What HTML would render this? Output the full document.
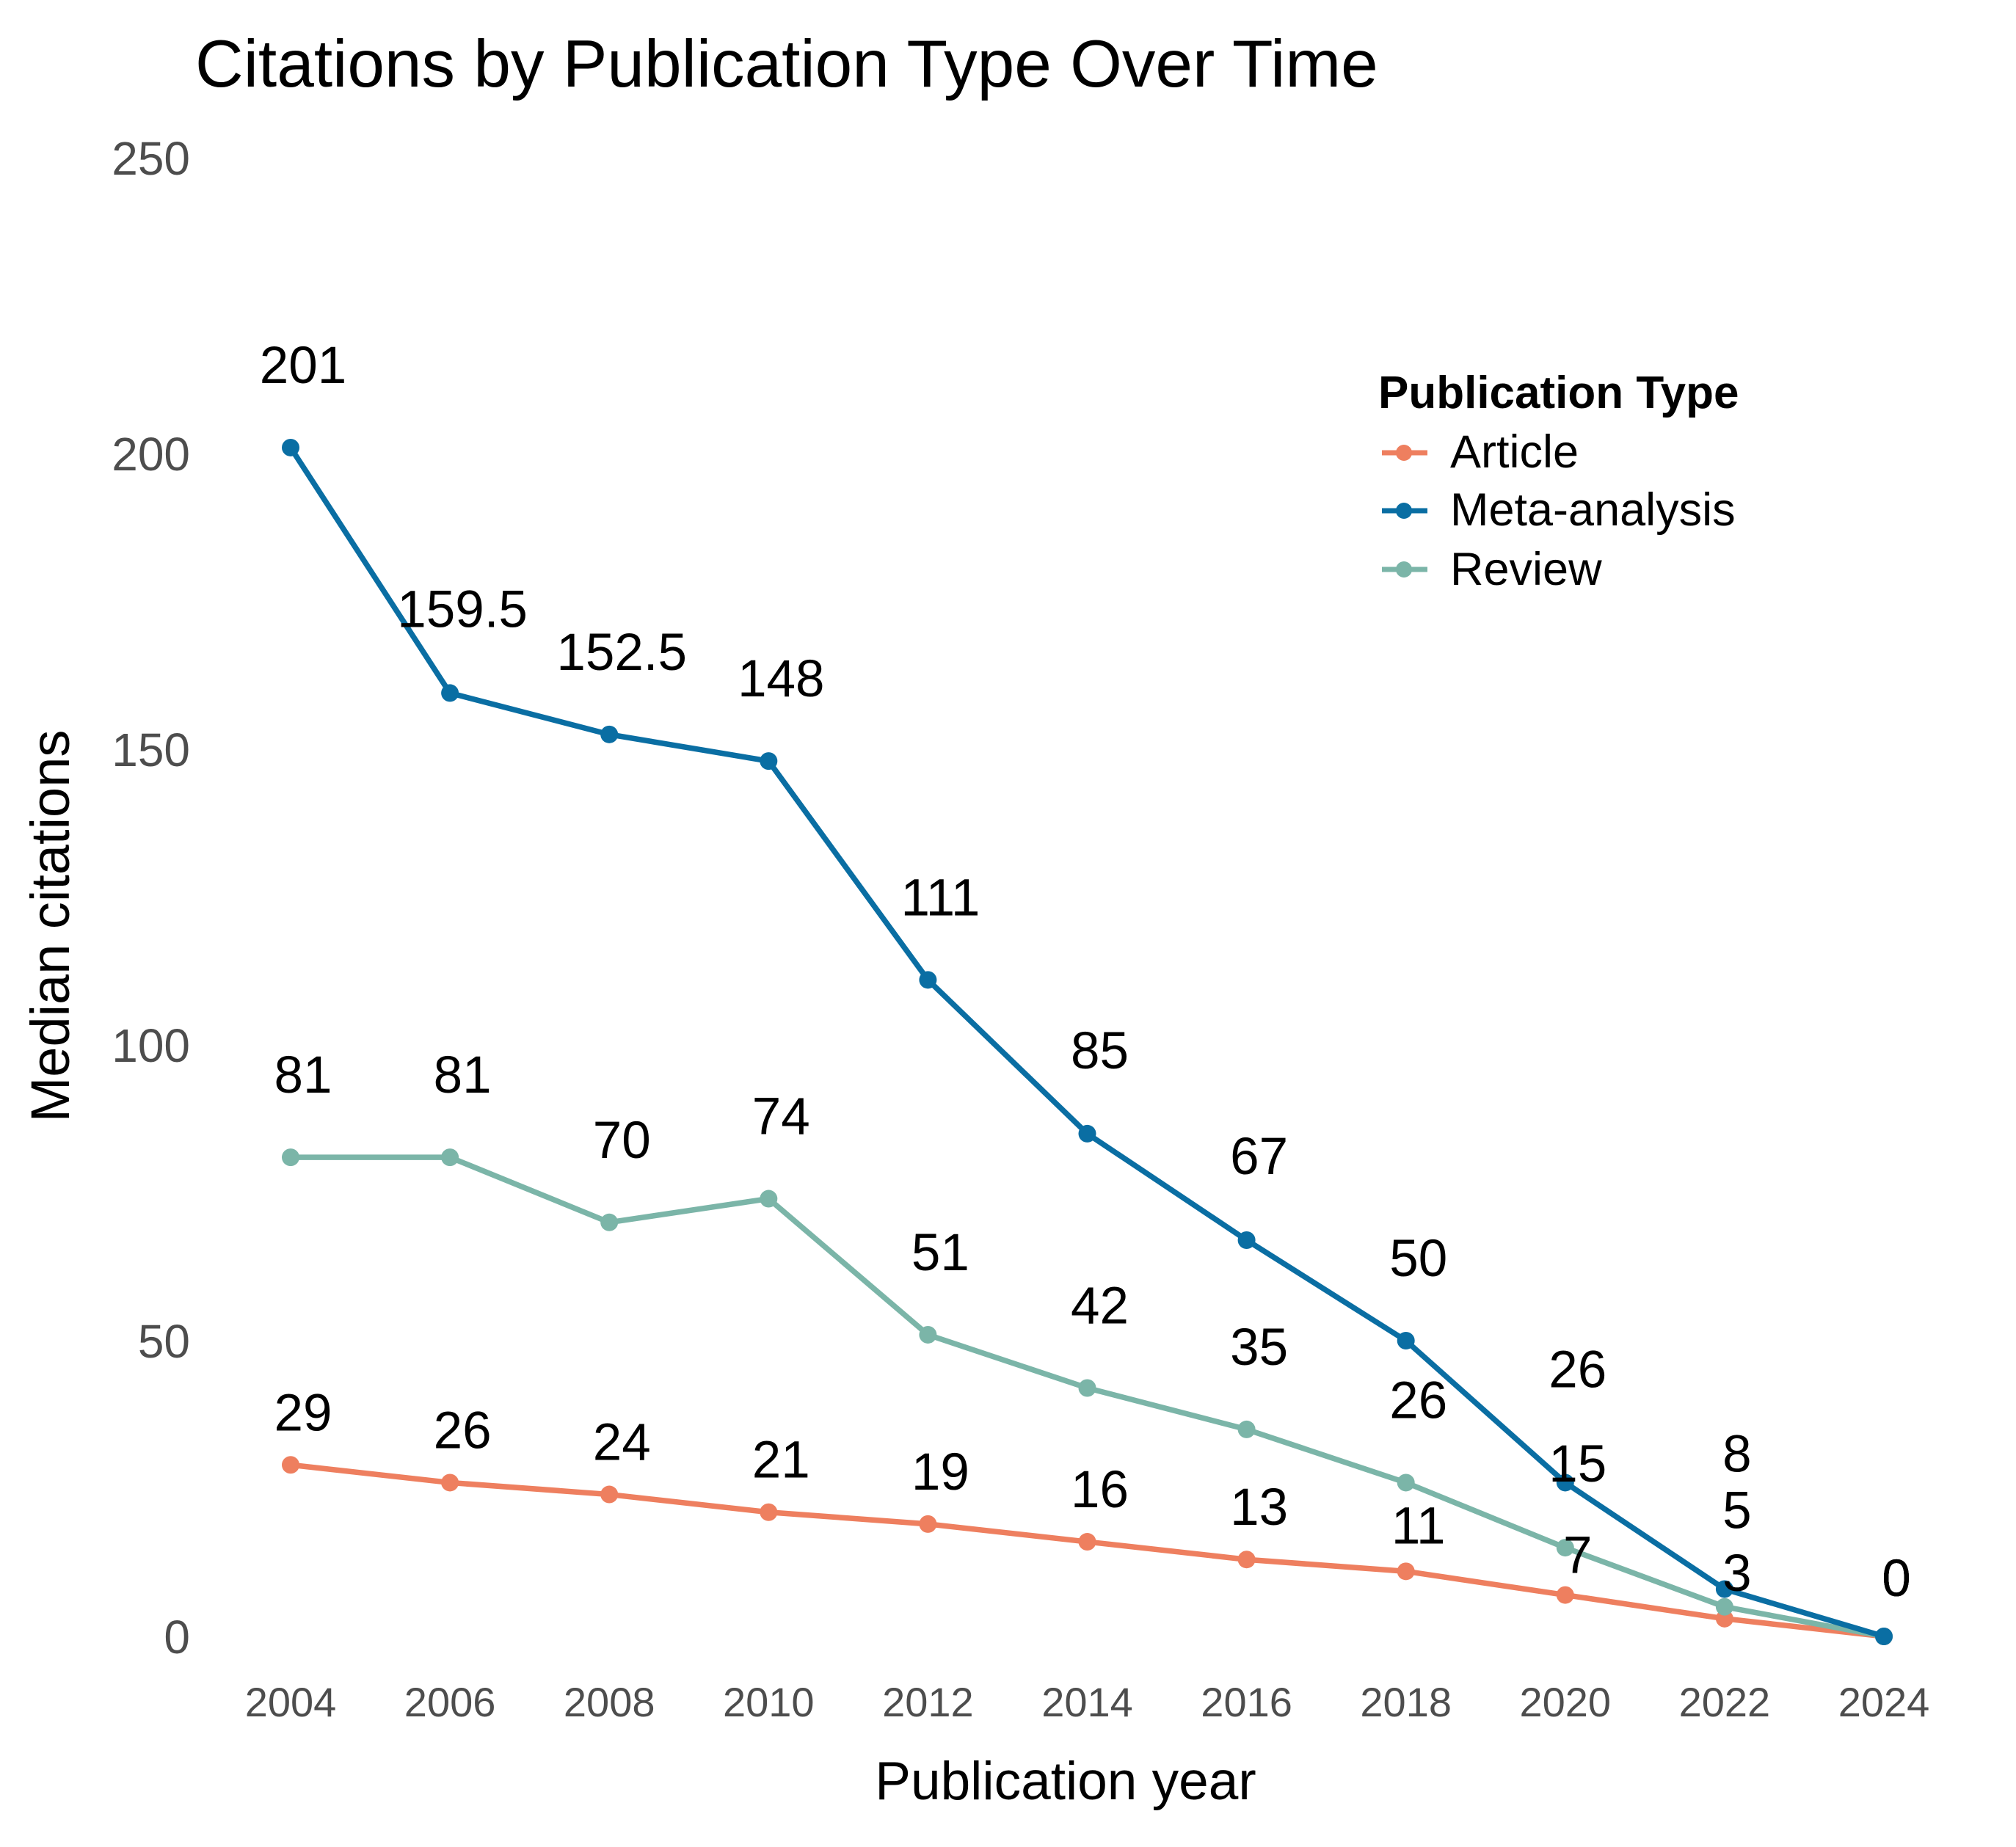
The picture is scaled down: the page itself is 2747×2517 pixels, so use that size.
<!DOCTYPE html>
<html><head><meta charset="utf-8"><style>
html,body{margin:0;padding:0;background:#fff;}
svg{display:block;font-family:"Liberation Sans",Arial,sans-serif;}
</style></head><body>
<svg id="c" width="2747" height="2517" viewBox="0 0 2747 2517" xmlns="http://www.w3.org/2000/svg">
<rect width="2747" height="2517" fill="#fff"/>
<text x="266" y="118" font-size="91" fill="#000">Citations by Publication Type Over Time</text>
<text x="1452" y="2452" font-size="73" text-anchor="middle" fill="#000">Publication year</text>
<text transform="translate(94,1262) rotate(-90)" font-size="74" text-anchor="middle" fill="#000">Median citations</text>
<g id="g"></g>
<text x="1878" y="556" font-size="62" font-weight="bold" fill="#000">Publication Type</text>
<line x1="1883" y1="617" x2="1945" y2="617" stroke="#ee7f5f" stroke-width="7"/><circle cx="1913" cy="617" r="11" fill="#ee7f5f"/>
<text x="1976" y="637" font-size="63" fill="#000">Article</text>
<line x1="1883" y1="696" x2="1945" y2="696" stroke="#0a6ea3" stroke-width="7"/><circle cx="1913" cy="696" r="11" fill="#0a6ea3"/>
<text x="1976" y="716" font-size="63" fill="#000">Meta-analysis</text>
<line x1="1883" y1="776" x2="1945" y2="776" stroke="#7bb5a8" stroke-width="7"/><circle cx="1913" cy="776" r="11" fill="#7bb5a8"/>
<text x="1976" y="797" font-size="63" fill="#000">Review</text>
</svg>
<script>
var g=document.getElementById('g'),h="";
function X(i){return 396+i*217.1;}function Y(v){return 2230-v*8.06;}
[0,50,100,150,200,250].forEach(function(v){h+='<text x="259" y="'+(Y(v)+23)+'" font-size="64" text-anchor="end" fill="#4d4d4d">'+v+'</text>';});
for(var i=0;i<11;i++)h+='<text x="'+X(i)+'" y="2339" font-size="56" text-anchor="middle" fill="#4d4d4d">'+(2004+2*i)+'</text>';
var S=[["#ee7f5f",[29,26,24,21,19,16,13,11,7,3,0],[47,47,47,47,47,47,47,38,30,38,55]],
["#7bb5a8",[81,81,70,74,51,42,35,26,15,5,0],[88,88,88,88,88,88,88,88,90,107,55]],
["#0a6ea3",[201,159.5,152.5,148,111,85,67,50,26,8,0],[88,90,88,88,88,89,90,88,130,160,55]]];
S.forEach(function(s){var p=s[1].map(function(v,i){return X(i)+','+Y(v);}).join(' ');
h+='<polyline points="'+p+'" fill="none" stroke="'+s[0]+'" stroke-width="7.5" stroke-linejoin="round"/>';
s[1].forEach(function(v,i){h+='<circle cx="'+X(i)+'" cy="'+Y(v)+'" r="12" fill="'+s[0]+'"/>';});});
S.forEach(function(s){s[1].forEach(function(v,i){h+='<text x="'+(X(i)+17)+'" y="'+(Y(v)-s[2][i])+'" font-size="71" text-anchor="middle" fill="#000">'+v+'</text>';});});
g.innerHTML=h;
</script>
</body></html>
